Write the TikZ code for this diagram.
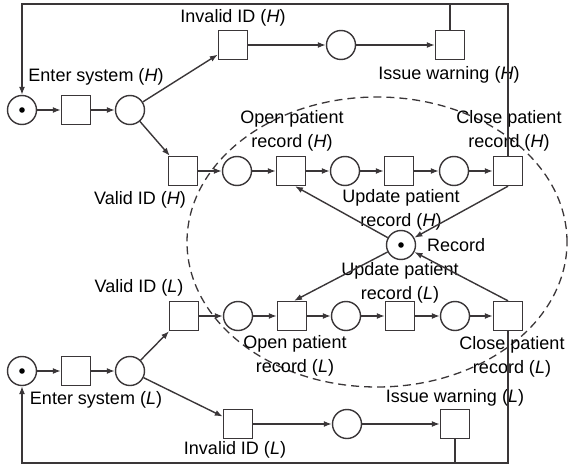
\documentclass[tikz,border=0pt]{standalone}
\usepackage{fontspec}
\setmainfont{Liberation Sans}
\usetikzlibrary{arrows.meta}
\definecolor{netgray}{RGB}{58,54,56}
\begin{document}
\begin{tikzpicture}[x=1pt, y=-1pt,
    place/.style={circle, draw=netgray, line width=1.4pt, minimum size=29pt, inner sep=0pt},
    tokenplace/.style={place, path picture={\fill[black] (path picture bounding box.center) circle (2.8pt);}},
    trans/.style={rectangle, draw=netgray, line width=1.4pt, minimum size=29pt, inner sep=0pt},
    arc/.style={draw=netgray, line width=1.4pt, -{Latex[length=8pt,width=6pt]}},
    wire/.style={draw=netgray, line width=1.4pt},
    lbl/.style={font=\fontsize{18}{24}\selectfont, align=center, inner sep=0pt}]
    \useasboundingbox (0,0) rectangle (569,465);

    % record zone
    \draw[netgray, line width=1.3pt, dash pattern=on 8pt off 5pt] (377,242) ellipse [x radius=190pt, y radius=145pt];

    % high level
    \node[tokenplace] (P0H) at (22,110) {};
    \node[trans] (TenterH) at (76,110) {};
    \node[place] (P1H) at (130,110) {};
    \node[trans] (TinvH) at (233,45) {};
    \node[place] (PinvH) at (341,45) {};
    \node[trans] (TwarnH) at (450,45) {};
    \node[trans] (TvalidH) at (183,171) {};
    \node[place] (P2H) at (237,171) {};
    \node[trans] (TopenH) at (291,171) {};
    \node[place] (P3H) at (345,171) {};
    \node[trans] (TupdH) at (399,171) {};
    \node[place] (P4H) at (454,171) {};
    \node[trans] (TcloseH) at (508,171) {};

    % shared record
    \node[tokenplace] (Record) at (401,245) {};

    % low level
    \node[tokenplace] (P0L) at (22,371) {};
    \node[trans] (TenterL) at (76,371) {};
    \node[place] (P1L) at (130,371) {};
    \node[trans] (TvalidL) at (184,316) {};
    \node[place] (P2L) at (238,316) {};
    \node[trans] (TopenL) at (292,316) {};
    \node[place] (P3L) at (346,316) {};
    \node[trans] (TupdL) at (400,316) {};
    \node[place] (P4L) at (455,316) {};
    \node[trans] (TcloseL) at (508,316) {};
    \node[trans] (TinvL) at (238,424) {};
    \node[place] (PinvL) at (347,424) {};
    \node[trans] (TwarnL) at (455,424) {};

    % labels
    \node[lbl] (lInvH) at (233,18) {Invalid ID (\textit{H})};
    \node[lbl] (lEnterH) at (96,77) {Enter system (\textit{H})};
    \node[lbl] (lWarnH) at (449,75) {Issue warning (\textit{H})};
    \node[lbl] (lOpenH) at (292,131) {Open patient\\record (\textit{H})};
    \node[lbl] (lCloseH) at (509,131) {Close patient\\record (\textit{H})};
    \node[lbl] (lValidH) at (140,200) {Valid ID (\textit{H})};
    \node[lbl] (lUpdH) at (401,210) {Update patient\\record (\textit{H})};
    \node[lbl, anchor=west] (lRecord) at (427,245) {Record};
    \node[lbl] (lUpdL) at (400,283) {Update patient\\record (\textit{L})};
    \node[lbl] (lValidL) at (139,288) {Valid ID (\textit{L})};
    \node[lbl] (lOpenL) at (295,356) {Open patient\\record (\textit{L})};
    \node[lbl] (lCloseL) at (512,357) {Close patient\\record (\textit{L})};
    \node[lbl] (lEnterL) at (96,400) {Enter system (\textit{L})};
    \node[lbl] (lWarnL) at (455,398) {Issue warning (\textit{L})};
    \node[lbl] (lInvL) at (235,450) {Invalid ID (\textit{L})};

    \coordinate (topH) at (22,4);
    \coordinate (botL) at (22,463);

    % high level arcs
    \draw[arc] (P0H) -- (TenterH);
    \draw[arc] (TenterH) -- (P1H);
    \draw[arc] (P1H) -- (TinvH);
    \draw[arc] (TinvH) -- (PinvH);
    \draw[arc] (PinvH) -- (TwarnH);
    \draw[arc] (P1H) -- (TvalidH);
    \draw[arc] (TvalidH) -- (P2H);
    \draw[arc] (P2H) -- (TopenH);
    \draw[arc] (TopenH) -- (P3H);
    \draw[arc] (P3H) -- (TupdH);
    \draw[arc] (TupdH) -- (P4H);
    \draw[arc] (P4H) -- (TcloseH);
    \draw[arc] (TwarnH.north) |- (topH) -- (P0H);
    \draw[wire] (TcloseH.north) |- (TwarnH.north |- topH);

    % record arcs
    \draw[arc] (Record) -- ([xshift=4pt]TopenH.south);
    \draw[arc] (TcloseH.south) -- (Record);
    \draw[arc] (Record) -- ([xshift=2pt]TopenL.north);
    \draw[arc] (TcloseL.north) -- (Record);

    % low level arcs
    \draw[arc] (P0L) -- (TenterL);
    \draw[arc] (TenterL) -- (P1L);
    \draw[arc] (P1L) -- (TvalidL);
    \draw[arc] (TvalidL) -- (P2L);
    \draw[arc] (P2L) -- (TopenL);
    \draw[arc] (TopenL) -- (P3L);
    \draw[arc] (P3L) -- (TupdL);
    \draw[arc] (TupdL) -- (P4L);
    \draw[arc] (P4L) -- (TcloseL);
    \draw[arc] (P1L) -- (TinvL);
    \draw[arc] (TinvL) -- (PinvL);
    \draw[arc] (PinvL) -- (TwarnL);
    \draw[arc] (TwarnL.south) |- (botL) -- (P0L);
    \draw[wire] (TcloseL.south) |- (TwarnL.south |- botL);
\end{tikzpicture}
\end{document}
